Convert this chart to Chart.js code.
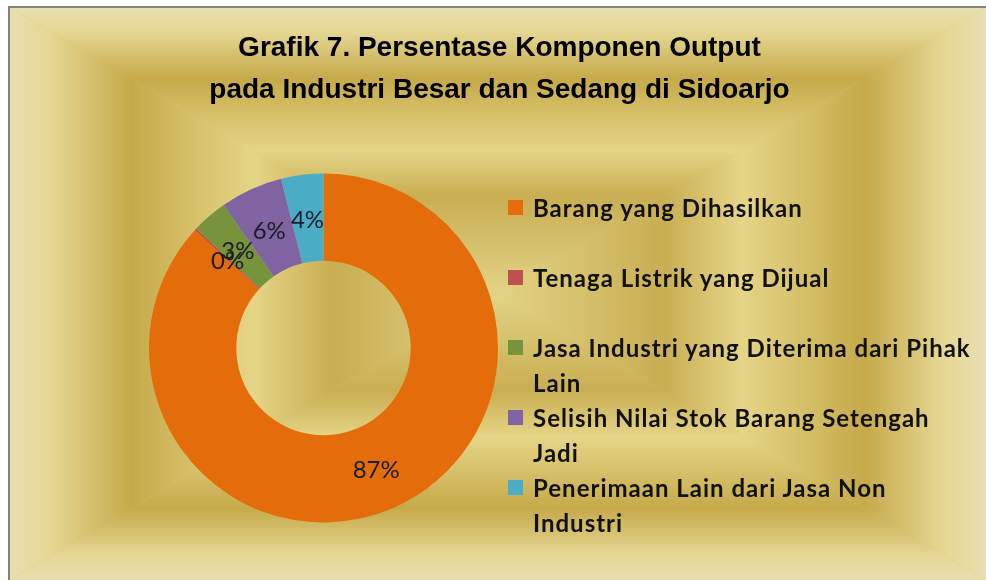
<!DOCTYPE html>
<html>
<head>
<meta charset="utf-8">
<script src="https://cdn.jsdelivr.net/npm/chart.js@4.4.1/dist/chart.umd.min.js"></script>
<style>
  html, body { margin: 0; padding: 0; background: #fff; }
  #wrap { position: relative; width: 986px; height: 580px; }
  #legend { position: absolute; left: 508px; top: 0; }
  .item { position: absolute; left: 0; width: 475px; }
  .box { position: absolute; left: 0; top: 10px; width: 15px; height: 15px; }
  .txt {
    position: absolute; left: 25px; width: 446px;
    font-family: Lato, 'Open Sans', sans-serif; font-weight: bold; font-size: 24px;
    letter-spacing: 1px; line-height: 35px; color: #111;
  }
</style>
</head>
<body>
<div id="wrap">
  <canvas id="donut" width="986" height="580"></canvas>
  <div id="legend"></div>
</div>
<script>
// Grafik 7 - komponen output industri besar dan sedang, Sidoarjo
const categories = [
    'Barang yang Dihasilkan',
    'Tenaga Listrik yang Dijual',
    'Jasa Industri yang Diterima dari Pihak Lain',
    'Selisih Nilai Stok Barang Setengah Jadi',
    'Penerimaan Lain dari Jasa Non Industri'
];
const shares = [86.8, 0.2, 3.3, 5.8, 3.9];
const sliceColors = ['#E46C0A', '#C0504D', '#77933C', '#8064A2', '#4BACC6'];
const titleLines = [
    'Grafik 7. Persentase Komponen Output',
    'pada Industri Besar dan Sedang di Sidoarjo'
];

(function () {
    // gold "picture frame" background: rectangular gradient from the center
    const goldStops = [
        [0, '#E9DFB0'],
        [0.08, '#E6D896'],
        [0.25, '#C6AA4A'],
        [0.5, '#E5D587'],
        [0.66, '#C9AE52'],
        [1, '#E2D386']
    ];
    const frame = { left: 9, top: 7 };

    function fillTri(ctx, pts, gx0, gy0, gx1, gy1) {
        const g = ctx.createLinearGradient(gx0, gy0, gx1, gy1);
        goldStops.forEach(s => g.addColorStop(s[0], s[1]));
        ctx.fillStyle = g;
        ctx.beginPath();
        ctx.moveTo(pts[0][0], pts[0][1]);
        ctx.lineTo(pts[1][0], pts[1][1]);
        ctx.lineTo(pts[2][0], pts[2][1]);
        ctx.closePath();
        ctx.fill();
    }

    const frameBg = {
        id: 'frameBg',
        beforeDraw(chart) {
            const ctx = chart.ctx;
            const x0 = frame.left, y0 = frame.top, x1 = chart.width, y1 = chart.height;
            const cx = (x0 + x1) / 2, cy = (y0 + y1) / 2;
            ctx.save();
            ctx.fillStyle = '#ffffff';
            ctx.fillRect(0, 0, chart.width, chart.height);
            ctx.fillStyle = '#D8C472';
            ctx.fillRect(x0, y0, x1 - x0, y1 - y0);
            fillTri(ctx, [[x0, y0], [x1, y0], [cx, cy]], cx, y0, cx, cy);
            fillTri(ctx, [[x0, y1], [x1, y1], [cx, cy]], cx, y1, cx, cy);
            fillTri(ctx, [[x0, y0], [x0, y1], [cx, cy]], x0, cy, cx, cy);
            fillTri(ctx, [[x1, y0], [x1, y1], [cx, cy]], x1, cy, cx, cy);
            // thin grey outline, left and top
            ctx.strokeStyle = '#858078';
            ctx.lineWidth = 2;
            ctx.beginPath();
            ctx.moveTo(x0, y1);
            ctx.lineTo(x0, y0);
            ctx.lineTo(x1, y0);
            ctx.stroke();
            ctx.restore();
        }
    };

    // title centred on the whole frame (chart.js would squeeze it into the chart area)
    const frameTitle = {
        id: 'frameTitle',
        afterDraw(chart) {
            const ctx = chart.ctx;
            const cx = (frame.left + chart.width) / 2 + 2;
            ctx.save();
            ctx.font = 'bold 28px "Liberation Sans", Arial, sans-serif';
            ctx.fillStyle = '#000';
            ctx.textAlign = 'center';
            ctx.textBaseline = 'middle';
            titleLines.forEach((line, i) => {
                ctx.fillText(line, cx, 48 + i * 42);
            });
            ctx.restore();
        }
    };

    const pctLabels = {
        id: 'pctLabels',
        afterDatasetsDraw(chart) {
            const ctx = chart.ctx;
            const meta = chart.getDatasetMeta(0);
            const data = chart.data.datasets[0].data;
            const total = data.reduce((a, b) => a + b, 0);
            ctx.save();
            ctx.font = '24px Lato, "Open Sans", sans-serif';
            ctx.fillStyle = '#1c1c28';
            ctx.textAlign = 'center';
            ctx.textBaseline = 'middle';
            meta.data.forEach((arc, i) => {
                const p = arc.getCenterPoint();
                ctx.fillText(Math.round(data[i] / total * 100) + '%', p.x, p.y + 2);
            });
            ctx.restore();
        }
    };

    new Chart(document.getElementById('donut'), {
        type: 'doughnut',
        data: {
            labels: categories,
            datasets: [{
                data: shares,
                backgroundColor: sliceColors,
                borderWidth: 0
            }]
        },
        options: {
            responsive: false,
            animation: false,
            cutout: '50%',
            layout: { padding: { left: 149, right: 488, top: 173, bottom: 57 } },
            plugins: {
                legend: { display: false },
                tooltip: { enabled: false },
                title: { display: false }
            }
        },
        plugins: [frameBg, pctLabels, frameTitle]
    });

    // legend on the right, wrapped like the original
    const legend = document.getElementById('legend');
    categories.forEach((name, i) => {
        const item = document.createElement('div');
        item.className = 'item';
        item.style.top = (190 + i * 70) + 'px';
        const box = document.createElement('div');
        box.className = 'box';
        box.style.background = sliceColors[i];
        const txt = document.createElement('div');
        txt.className = 'txt';
        txt.textContent = name;
        item.appendChild(box);
        item.appendChild(txt);
        legend.appendChild(item);
    });
})();
</script>
</body>
</html>
